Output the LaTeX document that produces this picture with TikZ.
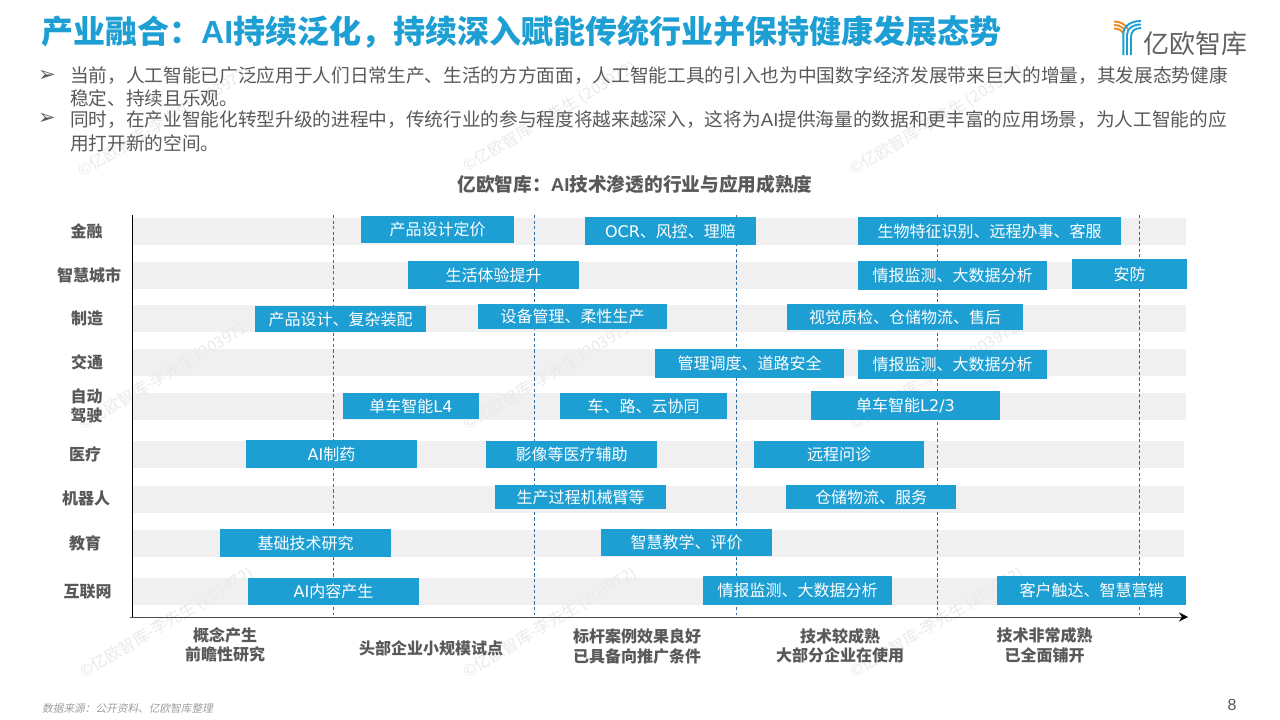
\documentclass[tikz,border=0pt]{standalone}
\usepackage{fontspec}
\setmainfont{Noto Sans CJK SC}
\newfontfamily\latfont{Liberation Sans}
\newfontfamily\verfont{DejaVu Sans}
\newfontfamily\srcfont[FakeSlant=0.2]{Noto Sans CJK SC}
\usetikzlibrary{arrows.meta}
\definecolor{brandblue}{HTML}{1D9FD4}
\definecolor{txtgray}{HTML}{595959}
\definecolor{bargray}{HTML}{F0F0F0}
\definecolor{dashblue}{HTML}{2F6EA5}
\definecolor{markgray}{HTML}{EAEAEA}
\definecolor{logoorange}{HTML}{F18A21}
\newcommand{\px}[1]{\fontsize{#1}{#1}\selectfont}
\newcommand{\lt}[1]{{\latfont #1}}
\newcommand{\vf}[1]{{\verfont\fontsize{16}{16}\selectfont #1}}
\tikzset{
  x=1pt,y=-1pt,
  graybar/.style={fill=bargray,draw=none},
  bluebox/.style={fill=brandblue,draw=none,text=white,inner sep=0pt,font=\px{16}},
  rowlabel/.style={text=txtgray,font=\bfseries\px{16},inner sep=0pt,align=center},
  stagelabel/.style={text=txtgray,font=\bfseries\fontsize{16}{19.5}\selectfont,inner sep=0pt,align=center},
  bodyline/.style={text=txtgray,font=\px{18.67},anchor=west,inner sep=0pt},
  bullet/.style={text=txtgray,font=\verfont\px{21},inner sep=0pt},
  stageline/.style={draw=dashblue,line width=1pt,dash pattern=on 3.2pt off 2.4pt},
  watermark/.style={text=markgray,font=\px{16},rotate=31,inner sep=0pt},
  logoblue/.style={draw=brandblue,line width=1.9pt},
  logoor/.style={draw=logoorange,line width=1.9pt},
}
\newcommand{\bx}[6]{\node[bluebox,minimum width={#4pt-#2pt},minimum height={#5pt-#3pt}] (#1) at ({(#2+#4)/2},{(#3+#5)/2}) {#6};}
\begin{document}
\begin{tikzpicture}
\useasboundingbox (0,0) rectangle (1280,720);
\fill[white] (0,0) rectangle (1280,720);

% grey row bars
\fill[graybar] (133,218) rectangle (1186,245);
\fill[graybar] (133,262) rectangle (1186,289);
\fill[graybar] (133,305) rectangle (1186,332);
\fill[graybar] (133,349) rectangle (1186,376);
\fill[graybar] (133,393) rectangle (1186,420);
\fill[graybar] (133,441) rectangle (1184,468);
\fill[graybar] (133,486) rectangle (1184,513);
\fill[graybar] (133,530) rectangle (1184,557);
\fill[graybar] (133,578) rectangle (1184,605);

% watermarks
\foreach \wx/\wy [count=\wi] in {165/122,550/117,937/120,166/375,550/375,937/375,167/623,550/623,937/623}
  \node[watermark] (wm\wi) at (\wx,\wy) {©亿欧智库-李先生 (203972)};

% title
\node[anchor=west,text=brandblue,font=\bfseries\px{32},inner sep=0pt] (title) at (41,32) {产业融合：\lt{\bfseries AI}持续泛化，持续深入赋能传统行业并保持健康发展态势};

% logo
\draw[logoor] (1114,21.5) .. controls (1120,21.5) and (1125,24) .. (1128,29);
\draw[logoor] (1114,25) .. controls (1119,25) and (1123,27) .. (1125,31);
\draw[logoor] (1114,28.5) .. controls (1118,28.5) and (1121,30) .. (1123,33);
\draw[logoblue] (1131,55) -- (1131,37) .. controls (1131,31) and (1135,28) .. (1141,28);
\draw[logoblue] (1127,55) -- (1127,35) .. controls (1127,28) and (1133,24.5) .. (1141,24.5);
\draw[logoblue] (1123.3,55) -- (1123.3,34) .. controls (1123.3,26) and (1131,21) .. (1141,21);
\node[anchor=west,text=black!62,font=\px{26},inner sep=0pt] (logotext) at (1143,44) {亿欧智库};

% bullets and body
\node[bullet] (b1) at (47,76) {➢};
\node[bodyline] (l1) at (70,76) {当前，人工智能已广泛应用于人们日常生产、生活的方方面面，人工智能工具的引入也为中国数字经济发展带来巨大的增量，其发展态势健康};
\node[bodyline] (l2) at (70,98) {稳定、持续且乐观。};
\node[bullet] (b2) at (47,119) {➢};
\node[bodyline] (l3) at (70,120) {同时，在产业智能化转型升级的进程中，传统行业的参与程度将越来越深入，这将为\lt{AI}提供海量的数据和更丰富的应用场景，为人工智能的应};
\node[bodyline] (l4) at (70,143) {用打开新的空间。};

% chart title
\node[text=txtgray,font=\bfseries\px{18.67},inner sep=0pt] (charttitle) at (635,184) {亿欧智库：\lt{\bfseries AI}技术渗透的行业与应用成熟度};

% stage separators
\foreach \sx [count=\si] in {333,534.5,736,937.7,1139.5}{
  \coordinate (st\si) at (\sx,215);
  \coordinate (sb\si) at (\sx,615);
  \draw[stageline] (st\si) -- (sb\si);
}

% axes
\coordinate (origin) at (132,617);
\coordinate (ytop) at (132,215);
\coordinate (xstart) at (130,617);
\coordinate (xend) at (1188,617);
\draw[black,line width=1pt] (ytop) -- (origin);
\draw[black!70,line width=1pt,-{Stealth[length=9pt,width=9pt,color=black]}] (xstart) -- (xend);

% row labels
\node[rowlabel] (r1) at (86.5,231) {金融};
\node[rowlabel] (r2) at (89,275) {智慧城市};
\node[rowlabel] (r3) at (87,318) {制造};
\node[rowlabel] (r4) at (87,362) {交通};
\node[rowlabel,font=\bfseries\fontsize{16}{19}\selectfont] (r5) at (86.5,406) {自动\\驾驶};
\node[rowlabel] (r6) at (85,454) {医疗};
\node[rowlabel] (r7) at (86,498) {机器人};
\node[rowlabel] (r8) at (85,543) {教育};
\node[rowlabel] (r9) at (87.5,592) {互联网};

% boxes
\bx{a1}{361}{216}{514}{243}{产品设计定价}
\bx{a2}{585}{217}{756}{245}{\vf{OCR}、风控、理赔}
\bx{a3}{858}{217}{1121}{245}{生物特征识别、远程办事、客服}
\bx{c1}{408}{261}{579}{289}{生活体验提升}
\bx{c2}{858}{261}{1047}{290}{情报监测、大数据分析}
\bx{c3}{1072}{259}{1187}{289}{安防}
\bx{d1}{255}{306}{426}{332}{产品设计、复杂装配}
\bx{d2}{478}{304}{667}{329}{设备管理、柔性生产}
\bx{d3}{787}{304}{1023}{330}{视觉质检、仓储物流、售后}
\bx{e1}{655}{349}{844}{378}{管理调度、道路安全}
\bx{e2}{858}{350}{1047}{379}{情报监测、大数据分析}
\bx{f1}{343}{393}{479}{419}{单车智能\vf{L4}}
\bx{f2}{560}{393}{727}{419}{车、路、云协同}
\bx{f3}{811}{391}{1000}{420}{单车智能\vf{L2/3}}
\bx{g1}{246}{440}{417}{468}{\vf{AI}制药}
\bx{g2}{486}{441}{657}{468}{影像等医疗辅助}
\bx{g3}{754}{441}{924}{468}{远程问诊}
\bx{h1}{495}{485}{666}{509}{生产过程机械臂等}
\bx{h2}{786}{485}{956}{509}{仓储物流、服务}
\bx{i1}{220}{529}{391}{557}{基础技术研究}
\bx{i2}{601}{529}{772}{556}{智慧教学、评价}
\bx{j1}{248}{578}{419}{605}{\vf{AI}内容产生}
\bx{j2}{703}{576}{892}{605}{情报监测、大数据分析}
\bx{j3}{997}{576}{1186}{605}{客户触达、智慧营销}

% stage labels
\node[stagelabel] (s1) at (225,645) {概念产生\\前瞻性研究};
\node[stagelabel] (s2) at (431,648) {头部企业小规模试点};
\node[stagelabel] (s3) at (637,646.5) {标杆案例效果良好\\已具备向推广条件};
\node[stagelabel] (s4) at (840,646) {技术较成熟\\大部分企业在使用};
\node[stagelabel] (s5) at (1044.5,645.5) {技术非常成熟\\已全面铺开};

% footer
\node[anchor=west,text=black!38,font=\srcfont\px{10.67},inner sep=0pt] (src) at (42,708) {数据来源：公开资料、亿欧智库整理};
\node[text=txtgray,font=\latfont\px{16},inner sep=0pt] (page) at (1232,705) {8};
\end{tikzpicture}
\end{document}
